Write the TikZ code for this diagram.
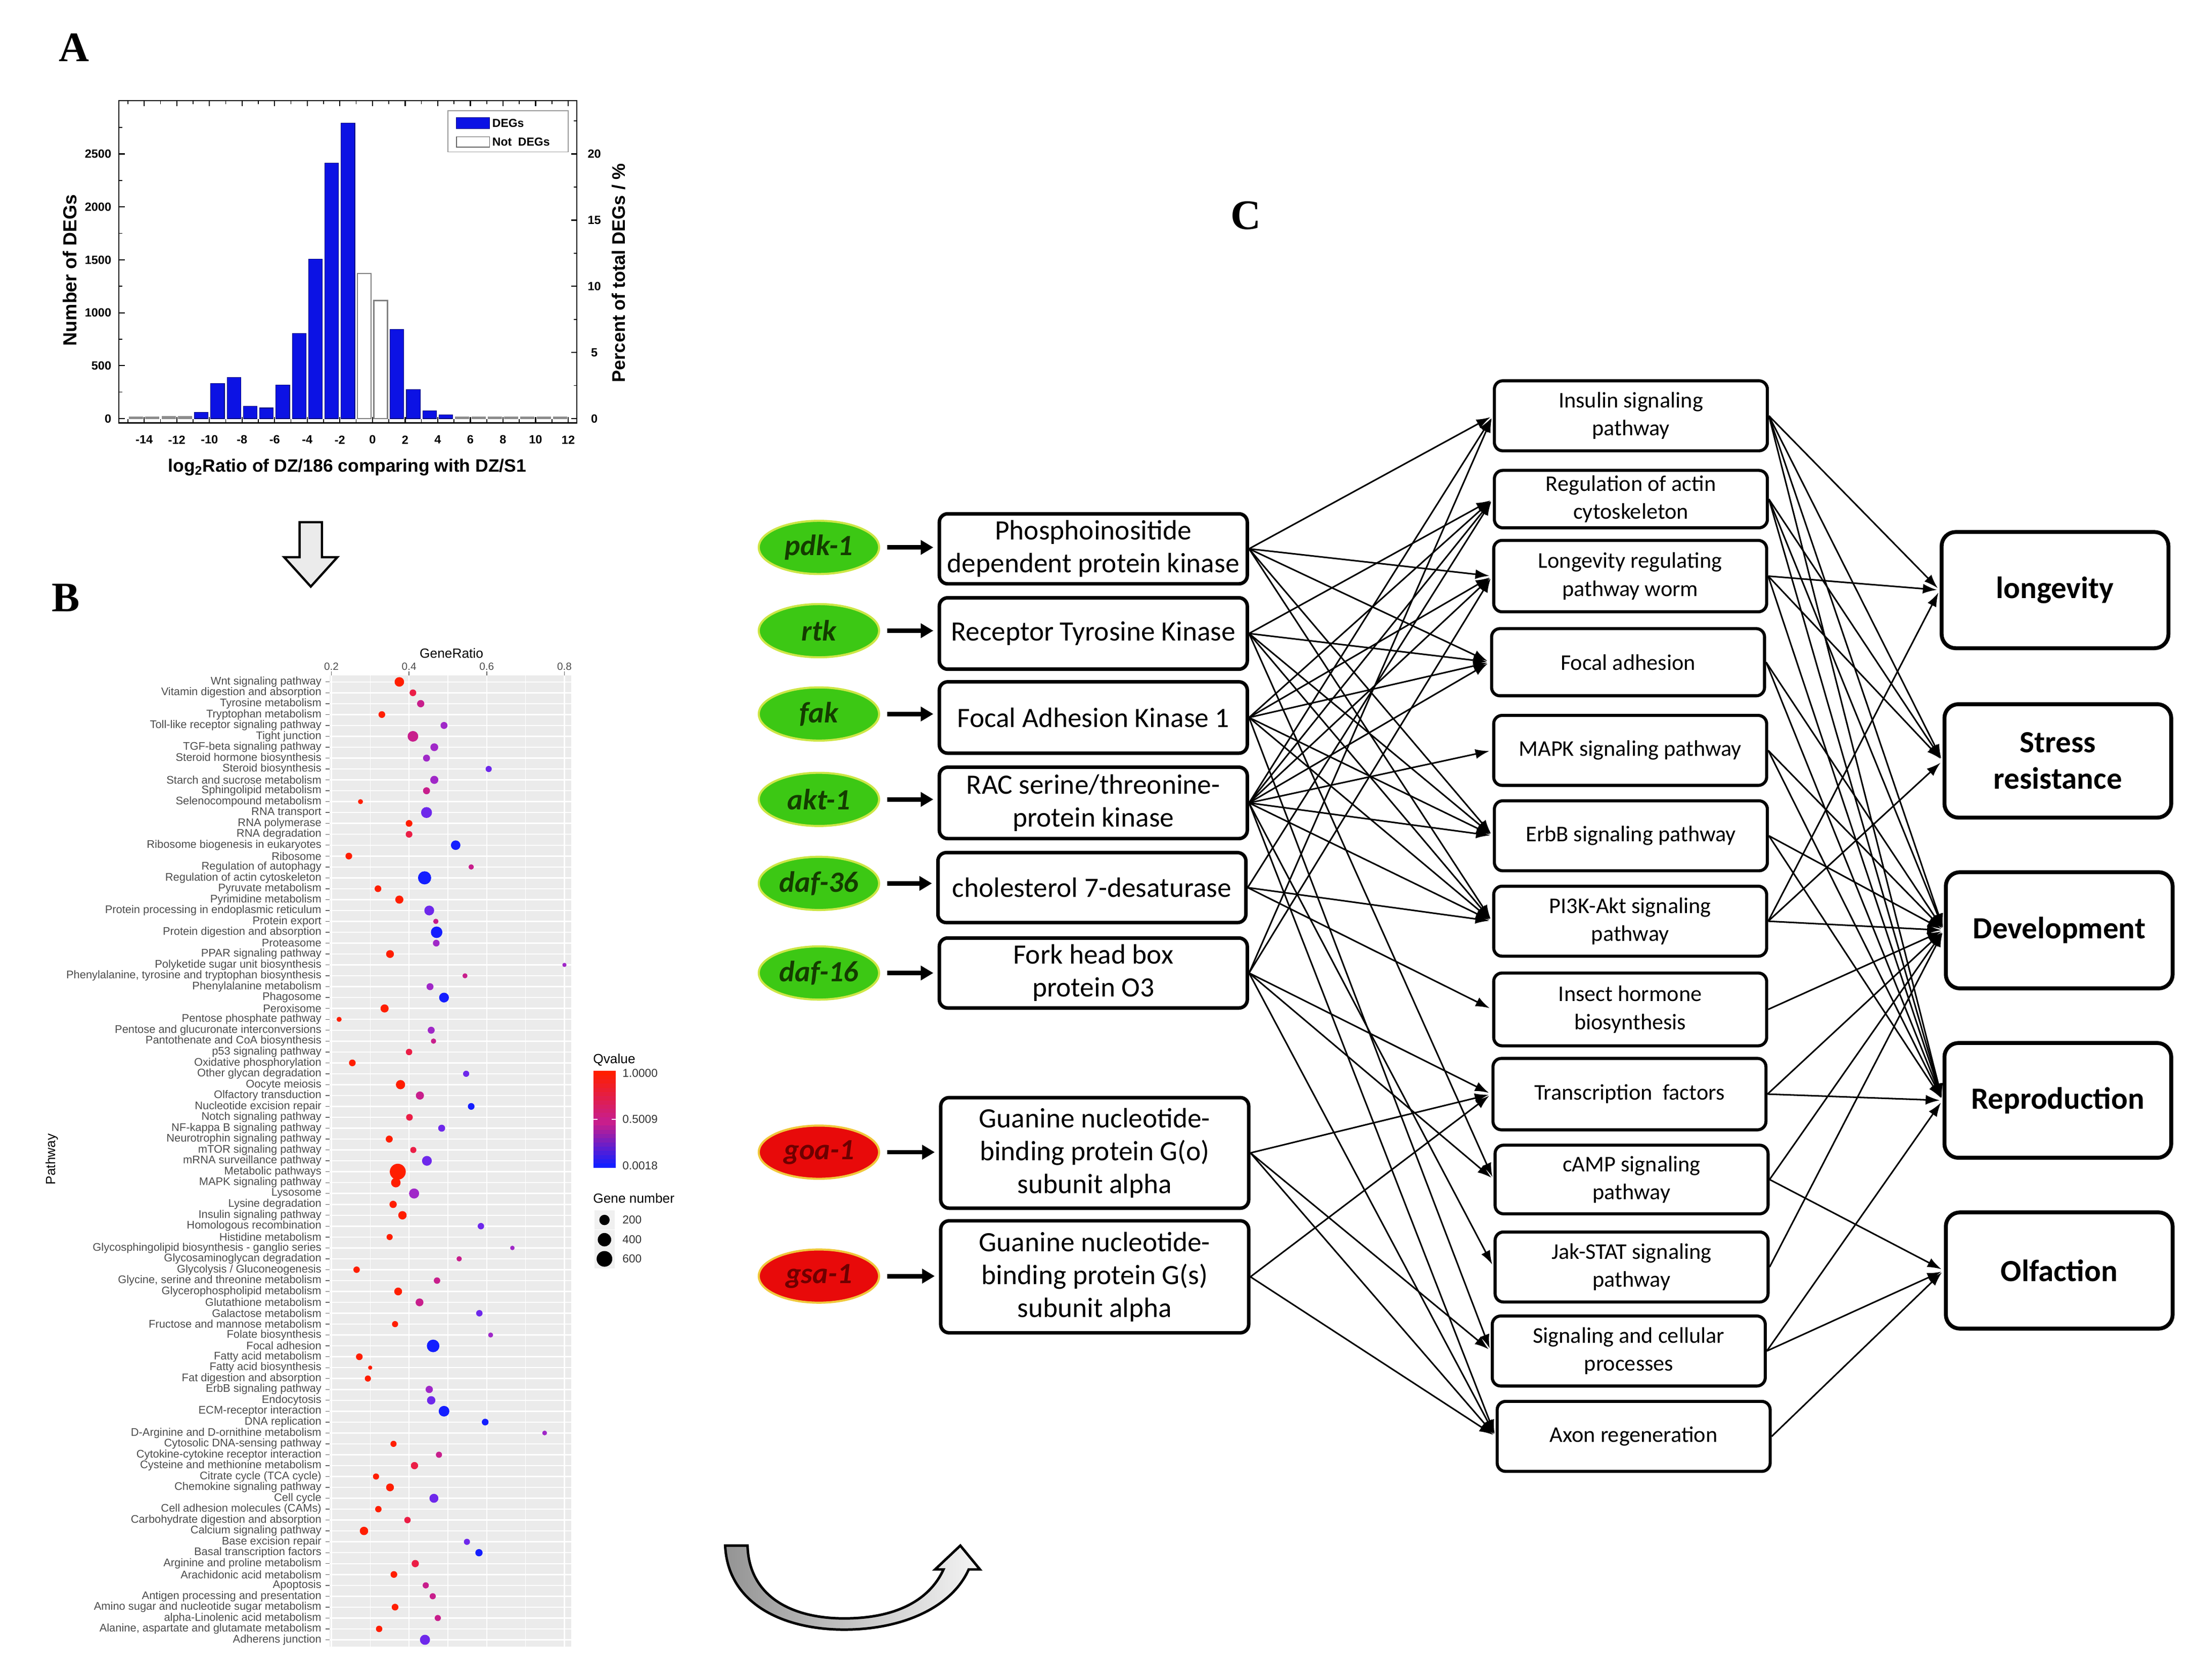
\documentclass[tikz,border=0pt]{standalone}
\usepackage{fontspec}
\setmainfont{Liberation Sans}
\newfontfamily\calib{Carlito}
\newfontfamily\serifbold{Liberation Serif}
\usetikzlibrary{arrows.meta,shapes.geometric}

\definecolor{degblue}{RGB}{12,18,228}
\definecolor{pgrey}{RGB}{235,235,235}
\definecolor{qr}{RGB}{255,30,0}
\definecolor{qc}{RGB}{235,30,70}
\definecolor{qm}{RGB}{200,30,140}
\definecolor{qp}{RGB}{160,40,200}
\definecolor{qv}{RGB}{110,40,235}
\definecolor{qb}{RGB}{20,30,255}
\definecolor{genegreen}{RGB}{60,200,20}
\definecolor{greenrim}{RGB}{205,230,70}
\definecolor{genered}{RGB}{232,10,10}
\definecolor{redrim}{RGB}{240,200,60}

\tikzset{
  panellab/.style={font=\serifbold\bfseries\fontsize{30}{30}\selectfont},
  ticklab/.style={font=\bfseries\fontsize{8.5}{9}\selectfont,inner sep=0pt},
  degbar/.style={fill=degblue,draw=degblue!55!black,line width=0.4pt},
  pathlab/.style={anchor=east,inner sep=0pt,text=black!70,font=\fontsize{7.9}{8}\selectfont},
  geneon/.style={ellipse,draw=greenrim,fill=genegreen,line width=1.5pt,minimum width=86pt,minimum height=38pt,inner sep=0pt,text={rgb,255:red,20;green,60;blue,0},font=\calib\bfseries\itshape\fontsize{21}{24}\selectfont},
  geneoff/.style={ellipse,draw=redrim,fill=genered,line width=1.5pt,minimum width=86pt,minimum height=38pt,inner sep=0pt,text={rgb,255:red,110;green,0;blue,0},font=\calib\bfseries\itshape\fontsize{21}{24}\selectfont},
  genebox/.style={draw,line width=2.5pt,rounded corners=6pt,minimum width=220pt,inner sep=0pt,align=center,font=\calib\fontsize{20}{23.5}\selectfont},
  pathbox/.style={draw,line width=2.2pt,rounded corners=6pt,minimum width=195pt,inner sep=0pt,align=center,font=\calib\fontsize{16}{20}\selectfont},
  traitbox/.style={draw,line width=2.8pt,rounded corners=10pt,minimum width=162pt,inner sep=0pt,align=center,font=\calib\bfseries\fontsize{22}{26}\selectfont},
  gslink/.style={-{Triangle[length=9pt,width=10pt]},line width=3.2pt,shorten <=5pt,shorten >=3pt},
  link/.style={-{Latex[length=10pt,width=7pt]},line width=1.1pt,shorten >=2pt}
}

\begin{document}
\begin{tikzpicture}[x=1pt,y=1pt,yscale=-1]
\useasboundingbox (0,0) rectangle (1568,1200);

% Text Node
\node[panellab] (labA) at (53,34) {A};
\node[panellab] (labB) at (47,427) {B};
\node[panellab] (labC) at (890,154) {C};

%Shape: Axis 2D (histogram)
\begin{scope}[shift={(266.1,299)},xscale=11.65,yscale=-0.0756]
\foreach \v/\h in {-14.5/15,-13.5/15,-12.5/22,-11.5/22,5.5/18,6.5/18,7.5/15,8.5/15,9.5/15,10.5/15,11.5/15}
  {\filldraw[fill=black!45,draw=black!45,line width=0.3pt] (\v-0.42,0) rectangle (\v+0.42,\h);}
\foreach \v/\h in {-10.5/60,-9.5/330,-8.5/390,-7.5/115,-6.5/100,-5.5/318,-4.5/805,-3.5/1505,-2.5/2415,-1.5/2790,1.5/845,2.5/275,3.5/72,4.5/35}
  {\filldraw[degbar] (\v-0.42,0) rectangle (\v+0.42,\h);}
\foreach \v/\h in {-0.5/1370,0.5/1115}
  {\filldraw[fill=white,draw=black!50,line width=0.8pt] (\v-0.42,0) rectangle (\v+0.42,\h);}
\draw[line width=0.9pt] (-15.55,-40) rectangle (12.53,3003);
\foreach \v in {-14,-12,...,12} {\draw[line width=0.8pt] (\v,-40) -- (\v,13) (\v,3003) -- (\v,2950);}
\foreach \v in {-15,-13,...,11} {\draw[line width=0.6pt] (\v,-40) -- (\v,-7) (\v,3003) -- (\v,2970);}
\foreach \c in {0,500,...,2500} {\draw[line width=0.8pt] (-15.55,\c) -- (-15.2,\c);}
\foreach \c in {250,750,...,2750} {\draw[line width=0.6pt] (-15.55,\c) -- (-15.35,\c);}
\foreach \c in {0,625,...,2500} {\draw[line width=0.8pt] (12.53,\c) -- (12.18,\c);}
\foreach \c in {312.5,937.5,...,2812.5} {\draw[line width=0.6pt] (12.53,\c) -- (12.33,\c);}
\foreach \c [count=\k] in {0,500,...,2500} {\node[ticklab,anchor=east] (ly\k) at (-16.0,\c) {\c};}
\foreach \v [count=\k] in {-14,-12,...,12} {\node[ticklab] (lx\k) at (\v,-200) {\v};}
\foreach \p/\c [count=\k] in {0/0,5/625,10/1250,15/1875,20/2500} {\node[ticklab] (lr\k) at (13.6,\c) {\p};}
\end{scope}

% Text Node
\node[rotate=90,font=\bfseries\fontsize{13.5}{14}\selectfont] (ycount) at (50,193) {Number of DEGs};
\node[rotate=90,font=\bfseries\fontsize{13}{14}\selectfont] (ypct) at (442,195) {Percent of total DEGs / \%};
\node[font=\bfseries\fontsize{12.8}{13}\selectfont] (xratio) at (248,334) {log\textsubscript{2}Ratio of DZ/186 comparing with DZ/S1};

%Shape: Rectangle (legend)
\draw[black!40,line width=0.6pt] (320,79) rectangle (406,108.5);
\filldraw[degbar] (326,84) rectangle (349.8,92);
\draw[black!60,line width=0.6pt] (326,97.7) rectangle (349.8,105);
\node[anchor=west,inner sep=0pt,font=\bfseries\fontsize{8.3}{9}\selectfont] (legdeg) at (351.5,88) {DEGs};
\node[anchor=west,inner sep=0pt,font=\bfseries\fontsize{8.3}{9}\selectfont] (legnot) at (351.5,101.4) {Not \ DEGs};

%Shape: Down Arrow
\filldraw[fill=black!8,line width=1.6pt,line join=miter] (214,373) -- (230,373) -- (230,398) -- (241,398) -- (222,419) -- (203,398) -- (214,398) -- cycle;

%Shape: Panel (dot plot)
\fill[pgrey] (235.4,482.4) rectangle (408,1176);
\foreach \g in {0.3,0.5,0.7} {\draw[white,line width=0.4pt] ({181.2+\g*277.5},482.4) -- ({181.2+\g*277.5},1176);}
\foreach \g in {0.2,0.4,0.6,0.8} {\draw[white,line width=0.9pt] ({181.2+\g*277.5},482.4) -- ({181.2+\g*277.5},1176);}
\foreach \i in {1,...,89} {\draw[white,line width=0.9pt] (235.4,{479.3+\i*7.775}) -- (408,{479.3+\i*7.775});}
\foreach \g [count=\k] in {0.2,0.4,0.6,0.8} {
  \draw[black!60,line width=0.6pt] ({181.2+\g*277.5},482.4) -- ({181.2+\g*277.5},479.6);
  \node[text=black!70,font=\fontsize{7.5}{8}\selectfont] (gr\k) at ({181.2+\g*277.5},476.2) {\g};
}
\node[font=\fontsize{9.5}{10}\selectfont] (xtitle) at (322.5,466.5) {GeneRatio};
\node[rotate=90,font=\fontsize{9.5}{10}\selectfont] (ytitle) at (37,828) {Pathway};

\foreach \nm/\gr/\cl/\rd [count=\i] in {
Wnt signaling pathway/0.375/qr/3.4,
Vitamin digestion and absorption/0.41/qc/2.4,
Tyrosine metabolism/0.43/qm/2.6,
Tryptophan metabolism/0.33/qr/2.4,
Toll-like receptor signaling pathway/0.49/qp/2.5,
Tight junction/0.41/qm/3.8,
TGF-beta signaling pathway/0.465/qp/2.8,
Steroid hormone biosynthesis/0.445/qp/2.5,
Steroid biosynthesis/0.605/qv/2.2,
Starch and sucrose metabolism/0.465/qp/2.9,
Sphingolipid metabolism/0.445/qm/2.5,
Selenocompound metabolism/0.275/qr/1.8,
RNA transport/0.445/qv/3.9,
RNA polymerase/0.40/qr/2.4,
RNA degradation/0.40/qc/2.4,
Ribosome biogenesis in eukaryotes/0.52/qb/3.4,
Ribosome/0.245/qr/2.4,
Regulation of autophagy/0.56/qm/1.9,
Regulation of actin cytoskeleton/0.44/qb/4.7,
Pyruvate metabolism/0.32/qr/2.4,
Pyrimidine metabolism/0.375/qr/2.9,
Protein processing in endoplasmic reticulum/0.452/qv/3.5,
Protein export/0.469/qm/1.9,
Protein digestion and absorption/0.471/qb/4.1,
Proteasome/0.47/qp/2.4,
PPAR signaling pathway/0.351/qr/2.8,
Polyketide sugar unit biosynthesis/0.80/qp/1.5,
{Phenylalanine, tyrosine and tryptophan biosynthesis}/0.544/qm/1.8,
Phenylalanine metabolism/0.454/qp/2.5,
Phagosome/0.49/qb/3.5,
Peroxisome/0.337/qr/2.9,
Pentose phosphate pathway/0.22/qr/1.8,
Pentose and glucuronate interconversions/0.457/qp/2.5,
Pantothenate and CoA biosynthesis/0.463/qm/1.9,
p53 signaling pathway/0.40/qc/2.3,
Oxidative phosphorylation/0.254/qr/2.4,
Other glycan degradation/0.547/qv/2.2,
Oocyte meiosis/0.378/qr/3.3,
Olfactory transduction/0.428/qm/2.9,
Nucleotide excision repair/0.56/qb/2.4,
Notch signaling pathway/0.401/qc/2.4,
NF-kappa B signaling pathway/0.484/qv/2.5,
Neurotrophin signaling pathway/0.349/qr/2.5,
mTOR signaling pathway/0.411/qc/2.2,
mRNA surveillance pathway/0.446/qv/3.5,
Metabolic pathways/0.371/qr/5.7,
MAPK signaling pathway/0.366/qr/3.4,
Lysosome/0.413/qp/3.6,
Lysine degradation/0.359/qr/2.6,
Insulin signaling pathway/0.383/qr/3.0,
Homologous recombination/0.585/qv/2.3,
Histidine metabolism/0.35/qr/2.2,
Glycosphingolipid biosynthesis - ganglio series/0.666/qp/1.6,
Glycosaminoglycan degradation/0.529/qm/1.9,
{Glycolysis / Gluconeogenesis}/0.265/qr/2.3,
{Glycine, serine and threonine metabolism}/0.472/qm/2.3,
Glycerophospholipid metabolism/0.372/qr/2.8,
Glutathione metabolism/0.427/qm/2.8,
Galactose metabolism/0.581/qv/2.3,
Fructose and mannose metabolism/0.364/qr/2.2,
Folate biosynthesis/0.61/qp/1.8,
Focal adhesion/0.462/qb/4.5,
Fatty acid metabolism/0.272/qr/2.4,
Fatty acid biosynthesis/0.30/qr/1.5,
Fat digestion and absorption/0.294/qr/2.2,
ErbB signaling pathway/0.452/qp/2.6,
Endocytosis/0.457/qv/3.0,
ECM-receptor interaction/0.49/qb/3.8,
DNA replication/0.596/qb/2.4,
D-Arginine and D-ornithine metabolism/0.749/qp/1.7,
Cytosolic DNA-sensing pathway/0.36/qr/2.2,
Cytokine-cytokine receptor interaction/0.477/qm/2.2,
Cysteine and methionine metabolism/0.414/qc/2.6,
Citrate cycle (TCA cycle)/0.315/qr/2.2,
Chemokine signaling pathway/0.351/qr/2.8,
Cell cycle/0.464/qv/3.2,
Cell adhesion molecules (CAMs)/0.321/qr/2.3,
Carbohydrate digestion and absorption/0.396/qc/2.3,
Calcium signaling pathway/0.284/qr/3.0,
Base excision repair/0.549/qv/2.2,
Basal transcription factors/0.58/qb/2.6,
Arginine and proline metabolism/0.416/qc/2.6,
Arachidonic acid metabolism/0.361/qr/2.4,
Apoptosis/0.443/qm/2.2,
Antigen processing and presentation/0.461/qm/2.2,
Amino sugar and nucleotide sugar metabolism/0.364/qr/2.4,
alpha-Linolenic acid metabolism/0.474/qm/2.2,
{Alanine, aspartate and glutamate metabolism}/0.323/qr/2.3,
Adherens junction/0.441/qv/3.6} {
  \pgfmathsetmacro{\px}{181.2+\gr*277.5}
  \pgfmathsetmacro{\py}{479.3+\i*7.775}
  \node[pathlab] (pw\i) at (229.8,\py) {\nm};
  \draw[black!60,line width=0.5pt] (232.4,\py) -- (235.4,\py);
  \fill[\cl] (\px,\py) circle[radius=\rd];
}

%Shape: Legend (Qvalue)
\node[anchor=west,inner sep=0pt,font=\fontsize{9.5}{10}\selectfont] (qtitle) at (423.5,757) {Qvalue};
\foreach \k in {0,...,11} {\pgfmathtruncatemacro{\pa}{100-\k*9}\fill[qr!\pa!qm] (424,765+\k*3) rectangle (440,768.2+\k*3);}
\foreach \k in {0,...,10} {\pgfmathtruncatemacro{\pa}{100-\k*10}\fill[qm!\pa!qb] (424,801+\k*3) rectangle (440,804.2+\k*3);}
\draw[white,line width=0.7pt] (424,799.4) -- (427,799.4) (437,799.4) -- (440,799.4);
\node[anchor=west,inner sep=0pt,text=black!80,font=\fontsize{8.2}{9}\selectfont] (qhi) at (444.5,766.7) {1.0000};
\node[anchor=west,inner sep=0pt,text=black!80,font=\fontsize{8.2}{9}\selectfont] (qmid) at (444.5,799.4) {0.5009};
\node[anchor=west,inner sep=0pt,text=black!80,font=\fontsize{8.2}{9}\selectfont] (qlo) at (444.5,832.7) {0.0018};

%Shape: Legend (Gene number)
\node[anchor=west,inner sep=0pt,font=\fontsize{9.5}{10}\selectfont] (gtitle) at (423.5,856) {Gene number};
\foreach \yy/\rr/\nn [count=\k] in {871.4/3.7/200,885.5/4.8/400,899.2/5.6/600} {
  \fill[black!6] (424.6,\yy-6.8) rectangle (439,\yy+6.8);
  \fill[black] (431.8,\yy) circle[radius=\rr];
  \node[anchor=west,inner sep=0pt,text=black!80,font=\fontsize{8.2}{9}\selectfont] (gn\k) at (444.5,\yy) {\nn};
}

%Shape: Curved Arrow
\shadedraw[left color=black!42,right color=black!4,line width=1.8pt,line join=miter]
  (518,1104) .. controls (520,1146) and (560,1164) .. (603,1164)
  .. controls (645,1164) and (680,1148) .. (692,1121) -- (700,1121) -- (686,1104) -- (668,1121) -- (674,1121)
  .. controls (664,1143) and (640,1156) .. (603,1156)
  .. controls (565,1156) and (535,1140) .. (534,1104) -- cycle;

% Gene Nodes
\node[geneon] (pdk) at (585,391) {pdk-1};
\node[geneon] (rtk) at (585,450.5) {rtk};
\node[geneon] (fak) at (585,510) {fak};
\node[geneon] (akt) at (585,571) {akt-1};
\node[geneon] (dafA) at (585,631) {daf-36};
\node[geneon] (dafB) at (585,695) {daf-16};
\node[geneoff] (goa) at (585,823) {goa-1};
\node[geneoff] (gsa) at (585,911.5) {gsa-1};

% Protein Nodes
\node[genebox,minimum height=50pt] (phos) at (781,392) {Phosphoinositide\\dependent protein kinase};
\node[genebox,minimum height=51pt] (rtkin) at (781,452.5) {Receptor Tyrosine Kinase};
\node[genebox,minimum height=51pt] (fakin) at (781,512.5) {Focal Adhesion Kinase 1};
\node[genebox,minimum height=51pt] (racs) at (781,573.5) {RAC serine/threonine-\\protein kinase};
\node[genebox,minimum height=50pt] (chol) at (780,634) {cholesterol 7-desaturase};
\node[genebox,minimum height=50pt] (forkh) at (781,695) {Fork head box\\protein O3};
\node[genebox,minimum height=79pt] (gnbo) at (782,823.5) {Guanine nucleotide-\\binding protein G(o)\\subunit alpha};
\node[genebox,minimum height=80pt] (gnbs) at (782,912) {Guanine nucleotide-\\binding protein G(s)\\subunit alpha};

% Pathway Nodes
\node[pathbox,minimum height=50pt] (insul) at (1165,297) {Insulin signaling\\pathway};
\node[pathbox,minimum height=41pt] (actin) at (1165,356.5) {Regulation of actin\\cytoskeleton};
\node[pathbox,minimum height=51pt] (longev) at (1164.5,411.5) {Longevity regulating\\pathway worm};
\node[pathbox,minimum height=48pt] (focal) at (1163,473) {Focal adhesion};
\node[pathbox,minimum height=50pt] (mapk) at (1164.5,536) {MAPK signaling pathway};
\node[pathbox,minimum height=50pt] (erbb) at (1165,597) {ErbB signaling pathway};
\node[pathbox,minimum height=50pt] (pik) at (1164.5,658) {PI3K-Akt signaling\\pathway};
\node[pathbox,minimum height=52pt] (insect) at (1164.5,721) {Insect hormone\\biosynthesis};
\node[pathbox,minimum height=51pt] (transc) at (1164,781.5) {Transcription \ factors};
\node[pathbox,minimum height=49pt] (camp) at (1165.5,842.5) {cAMP signaling\\pathway};
\node[pathbox,minimum height=50pt] (jak) at (1165.5,905) {Jak-STAT signaling\\pathway};
\node[pathbox,minimum height=50pt] (sigcell) at (1163.5,965) {Signaling and cellular\\processes};
\node[pathbox,minimum height=50pt] (axon) at (1167,1026) {Axon regeneration};

% Trait Nodes
\node[traitbox,minimum height=83pt] (longevity) at (1468,421.5) {longevity};
\node[traitbox,minimum height=81pt] (stress) at (1470,543.5) {Stress\\resistance};
\node[traitbox,minimum height=83pt] (develop) at (1471,664.5) {Development};
\node[traitbox,minimum height=82pt] (reprod) at (1470,786) {Reproduction};
\node[traitbox,minimum height=83pt] (olfact) at (1471,907.5) {Olfaction};

%Straight Lines (gene to protein)
\foreach \g/\b in {pdk/phos,rtk/rtkin,fak/fakin,akt/racs,dafA/chol,dafB/forkh,goa/gnbo,gsa/gnbs}
  {\draw[gslink] (\g.east) -- (\g.east -| \b.west);}

%Straight Lines (protein to pathway)
\foreach \s/\t in {phos/insul,phos/longev,phos/focal,phos/erbb,phos/pik,
  rtkin/actin,rtkin/focal,rtkin/erbb,rtkin/pik,rtkin/camp,
  fakin/actin,fakin/longev,fakin/focal,fakin/erbb,fakin/pik,fakin/sigcell,
  racs/insul,racs/actin,racs/longev,racs/focal,racs/mapk,racs/erbb,racs/pik,racs/jak,racs/axon,
  chol/actin,chol/pik,chol/insect,
  forkh/insul,forkh/longev,forkh/transc,forkh/camp,forkh/axon,
  gnbo/transc,gnbo/sigcell,gnbo/axon,
  gnbs/transc,gnbs/axon}
  {\draw[link] (\s.east) -- (\t.west);}

%Straight Lines (pathway to trait)
\foreach \s/\t in {insul/longevity,insul/stress,insul/develop,insul/reprod,
  actin/stress,actin/develop,actin/reprod,
  longev/longevity,longev/stress,longev/reprod,
  focal/develop,focal/reprod,mapk/develop,mapk/reprod,erbb/develop,erbb/reprod,
  pik/longevity,pik/stress,pik/develop,insect/develop,
  transc/develop,transc/reprod,camp/develop,camp/olfact,jak/develop,
  sigcell/reprod,sigcell/olfact,axon/olfact}
  {\draw[link] (\s.east) -- (\t.west);}

\end{tikzpicture}
\end{document}
